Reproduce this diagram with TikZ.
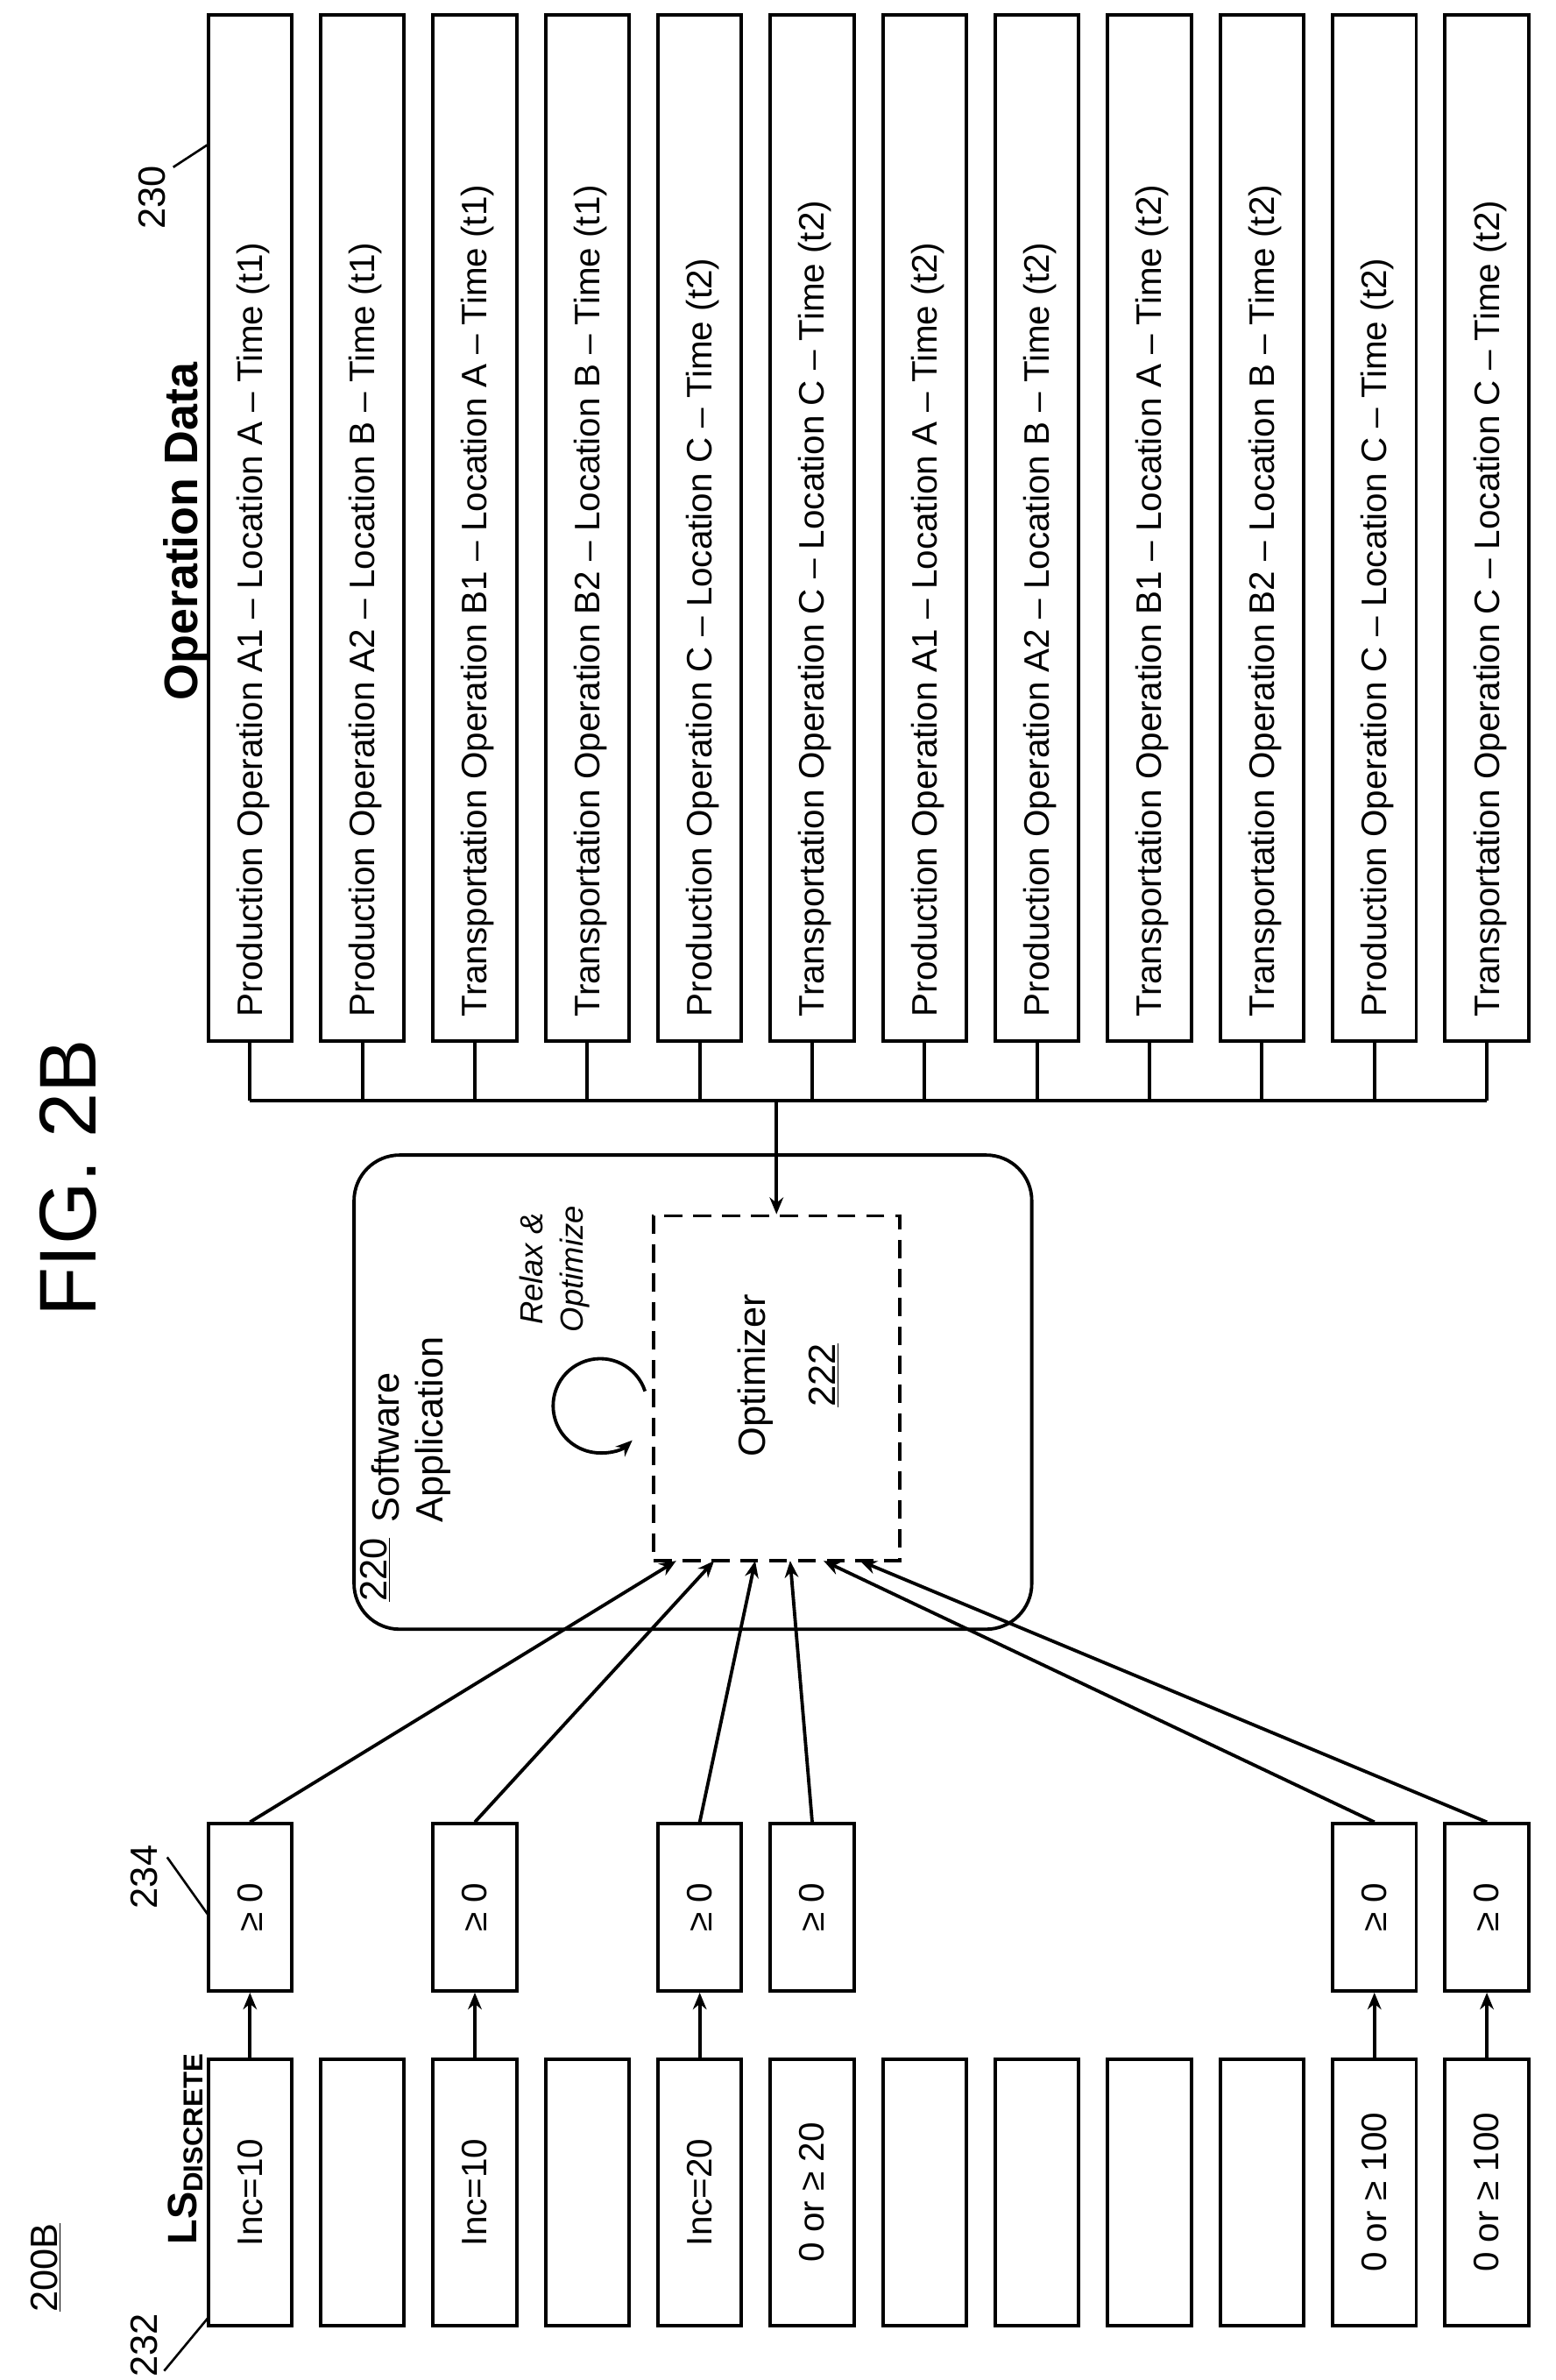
\documentclass[tikz,border=0pt]{standalone}
\usepackage{fontspec}
\setmainfont{Liberation Sans}
\usetikzlibrary{arrows.meta}
\begin{document}
\begin{tikzpicture}[x=1pt,y=-1pt,line width=2.2pt,
  >={Stealth[length=11pt,width=9pt]},
  txt/.style={font=\fontsize{23.3}{27}\selectfont,inner sep=0pt},
  col/.style={draw,minimum width=55pt,minimum height=675pt,inner sep=0pt},
  ls/.style={draw,minimum width=55pt,minimum height=175pt,inner sep=0pt},
  ge/.style={draw,minimum width=55pt,minimum height=110pt,inner sep=0pt}]
\useasboundingbox (0,0) rectangle (1024,1566);
% top columns
\foreach \t [count=\i from 0] in {
 Production Operation A1 -- Location A -- Time (t1),
 Production Operation A2 -- Location B -- Time (t1),
 Transportation Operation B1 -- Location A -- Time (t1),
 Transportation Operation B2 -- Location B -- Time (t1),
 Production Operation C -- Location C -- Time (t2),
 Transportation Operation C -- Location C -- Time (t2),
 Production Operation A1 -- Location A -- Time (t2),
 Production Operation A2 -- Location B -- Time (t2),
 Transportation Operation B1 -- Location A -- Time (t2),
 Transportation Operation B2 -- Location B -- Time (t2),
 Production Operation C -- Location C -- Time (t2),
 Transportation Operation C -- Location C -- Time (t2)}{
  \pgfmathsetmacro\cx{164.5+74*\i}
  \node[col] (c\i) at (\cx,347.5) {};
  \node[txt,rotate=90,anchor=west] (ct\i) at (\cx+2,670) {\t};
  \draw (c\i.south) -- (\cx,724);
}
\coordinate (busL) at (164.5,724);
\coordinate (busR) at (978.5,724);
\draw (busL) -- (busR);
\node[txt,rotate=90,anchor=west,font=\fontsize{31}{36}\selectfont\bfseries] (od) at (122,462) {Operation Data};
\node[txt,rotate=90,font=\fontsize{25}{30}\selectfont] (l230) at (100,130) {230};
\coordinate (l230e) at (137,95);
\draw[line width=1.5pt] (114,110) -- (l230e);
% software app
\node[draw,rounded corners=30pt,minimum width=446pt,minimum height=312pt] (sw) at (456,916) {};
\node[draw,dashed,dash pattern=on 12pt off 7pt,minimum width=162pt,minimum height=227pt] (opt) at (511,913.5) {};
\coordinate (busM) at (511,724);
\draw[->] (busM) -- (opt.north);
\node[txt,rotate=90,font=\fontsize{25}{30}\selectfont] (optt) at (497,905) {Optimizer};
\node[txt,rotate=90,font=\fontsize{25}{30}\selectfont] (o222) at (542,905) {\underline{222}};
\node[txt,rotate=90,font=\fontsize{25}{30}\selectfont] (s220) at (247,1033) {\underline{220}};
\node[txt,rotate=90,align=left,anchor=south west,font=\fontsize{25}{29}\selectfont] (swt) at (298,1003) {Software\\Application};
\node[txt,rotate=90,align=center,font=\fontsize{21}{26}\selectfont\itshape] (relax) at (365,835) {Relax \&\\Optimize};
\coordinate (lp) at (424.5,915.4);
\draw[->] (lp) arc[start angle=18,end angle=313,radius=31pt];
\node[txt,rotate=90,font=\fontsize{53}{60}\selectfont] (fig) at (45,775) {FIG. 2B};
% bottom LS boxes
\foreach \t [count=\i from 0] in {Inc=10,,Inc=10,,Inc=20,0 or ≥ 20,,,,,0 or ≥ 100,0 or ≥ 100}{
  \pgfmathsetmacro\cx{164.5+74*\i}
  \node[ls] (b\i) at (\cx,1442.5) {};
  \node[txt,rotate=90] at (b\i) {\t};
}
\foreach \i in {0,2,4,5,10,11}{
  \pgfmathsetmacro\cx{164.5+74*\i}
  \node[ge] (g\i) at (\cx,1255) {};
  \node[txt,rotate=90] at (g\i) {≥ 0};
}
\foreach \i in {0,2,4,10,11}{ \draw[->] (b\i.north) -- (g\i.south); }
\coordinate (e0) at (445,1027);
\coordinate (e2) at (470,1027);
\coordinate (e4) at (497,1027);
\coordinate (e5) at (520,1027);
\coordinate (e10) at (542,1027);
\coordinate (e11) at (566,1027);
\foreach \i in {0,2,4,5,10,11}{ \draw[->] (g\i.north) -- (e\i); }
\node[txt,rotate=90,font=\fontsize{25}{30}\selectfont] (l200) at (30,1492) {\underline{200B}};
\node[txt,rotate=90,anchor=west,font=\fontsize{27}{30}\selectfont\bfseries] (lsd) at (122,1478) {LS\raisebox{-4pt}{\fontsize{18}{20}\selectfont DISCRETE}};
\node[txt,rotate=90,font=\fontsize{25}{30}\selectfont] (l232) at (95,1543) {232};
\coordinate (l232e) at (137,1525);
\draw[line width=1.5pt] (108,1560) -- (l232e);
\node[txt,rotate=90,font=\fontsize{25}{30}\selectfont] (l234) at (95,1235) {234};
\coordinate (l234e) at (137,1260);
\draw[line width=1.5pt] (110,1222) -- (l234e);
\end{tikzpicture}
\end{document}
